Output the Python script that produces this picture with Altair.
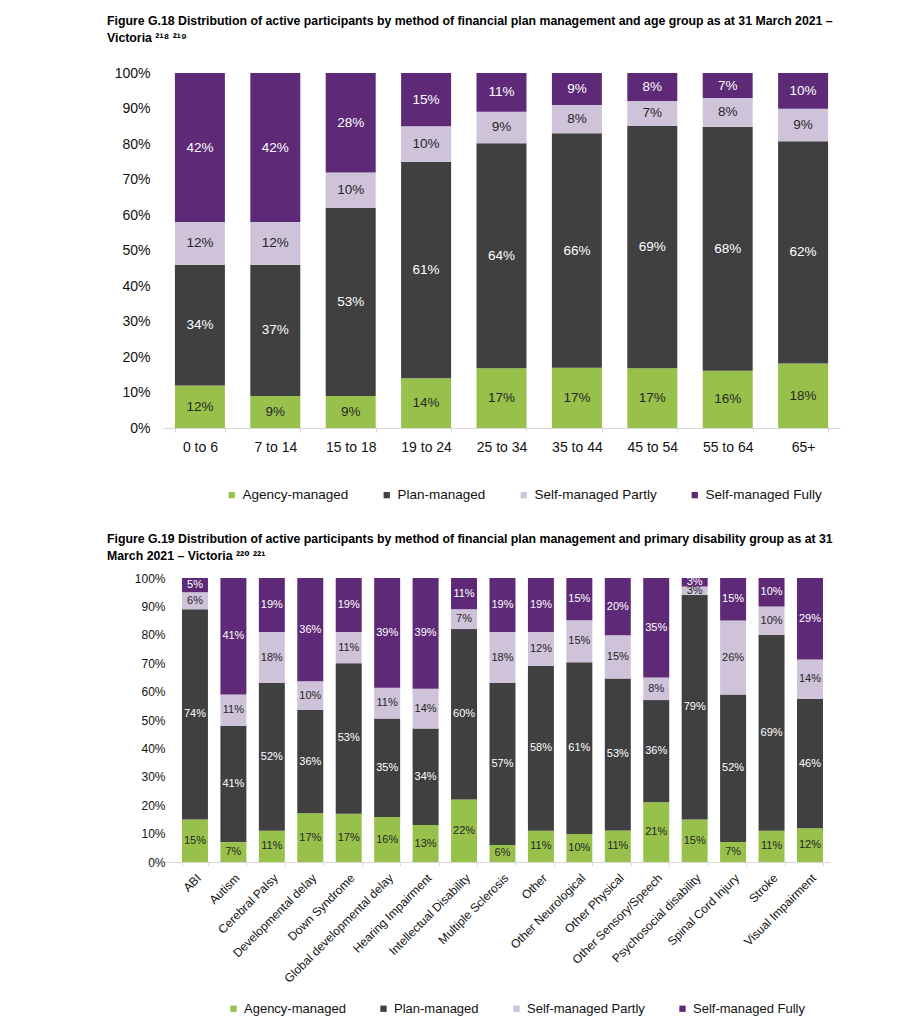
import altair as alt
import pandas as pd

series = ["Agency-managed", "Plan-managed", "Self-managed Partly", "Self-managed Fully"]
colors = ["#98C14C", "#404041", "#CFC3D9", "#5E2A78"]

age_groups = ["0 to 6", "7 to 14", "15 to 18", "19 to 24", "25 to 34",
              "35 to 44", "45 to 54", "55 to 64", "65+"]
age_agency = [12, 9, 9, 14, 17, 17, 17, 16, 18]
age_plan = [34, 37, 53, 61, 64, 66, 69, 68, 62]
age_partly = [12, 12, 10, 10, 9, 8, 7, 8, 9]
age_fully = [42, 42, 28, 15, 11, 9, 8, 7, 10]

dis_groups = ["ABI", "Autism", "Cerebral Palsy", "Developmental delay", "Down Syndrome",
              "Global developmental delay", "Hearing Impairment", "Intellectual Disability",
              "Multiple Sclerosis", "Other", "Other Neurological", "Other Physical",
              "Other Sensory/Speech", "Psychosocial disability", "Spinal Cord Injury",
              "Stroke", "Visual Impairment"]
dis_agency = [15, 7, 11, 17, 17, 16, 13, 22, 6, 11, 10, 11, 21, 15, 7, 11, 12]
dis_plan = [74, 41, 52, 36, 53, 35, 34, 60, 57, 58, 61, 53, 36, 79, 52, 69, 46]
dis_partly = [6, 11, 18, 10, 11, 11, 14, 7, 18, 12, 15, 15, 8, 3, 26, 10, 14]
dis_fully = [5, 41, 19, 36, 19, 39, 39, 11, 19, 19, 15, 20, 35, 3, 15, 10, 29]

title_top = ["Figure G.18 Distribution of active participants by method of financial plan management and age group as at 31 March 2021 \u2013",
             "Victoria \u00b2\u00b9\u2078 \u00b2\u00b9\u2079"]
title_bottom = ["Figure G.19 Distribution of active participants by method of financial plan management and primary disability group as at 31",
                "March 2021 \u2013 Victoria \u00b2\u00b2\u2070 \u00b2\u00b2\u00b9"]

FONT = "Liberation Sans"
TFONT = "Liberation Sans, DejaVu Sans"


def make_chart(cats, vals, width, height, title, pi, po, al, axis_fs, bar_fs,
               leg_fs, label_angle, ylab_pad, y_offset, leg_x, leg_y, title_offset):
    rows = []
    for i, c in enumerate(cats):
        for j, s in enumerate(series):
            rows.append({"cat": c, "series": s, "order": j, "value": vals[j][i]})
    df = pd.DataFrame(rows)
    base = alt.Chart(df).transform_stack(
        stack="value", groupby=["cat"], sort=[alt.SortField("order")],
        as_=["y0", "y1"], offset="normalize"
    ).transform_calculate(mid="(datum.y0 + datum.y1) / 2", lbl="datum.value + '%'")

    xaxis_kwargs = dict(title=None, labelFont=FONT, labelFontSize=axis_fs, labelColor="#111",
                        domainColor="#D9D9D9", tickColor="#D9D9D9", tickBand="extent",
                        tickSize=4, labelPadding=6, grid=False, labelOverlap=False)
    if label_angle:
        xaxis_kwargs.update(labelAngle=label_angle, labelAlign="right", labelBaseline="top")
    else:
        xaxis_kwargs.update(labelAngle=0, labelPadding=8)
    x_scale = alt.Scale(paddingInner=pi, paddingOuter=po, align=al)
    xaxis = alt.Axis(**xaxis_kwargs)
    yaxis = alt.Axis(title=None, format=".0%", values=[i / 10 for i in range(11)],
                     labelFont=FONT, labelFontSize=axis_fs, labelColor="#111",
                     domain=False, ticks=False, grid=False, labelPadding=ylab_pad,
                     offset=y_offset, labelOverlap=False, labelFlush=False)
    y_scale = alt.Scale(domain=[0, 1], nice=False)
    bars = base.mark_bar().encode(
        x=alt.X("cat:N", sort=cats, scale=x_scale, axis=xaxis),
        y=alt.Y("y0:Q", scale=y_scale, axis=yaxis),
        y2="y1:Q",
        color=alt.Color("series:N", scale=alt.Scale(domain=series, range=colors),
                        legend=alt.Legend(title=None, orient="none", direction="horizontal",
                                          legendX=leg_x, legendY=leg_y,
                                          symbolType="square", symbolSize=40,
                                          symbolStrokeWidth=0, labelFont=FONT,
                                          labelFontSize=leg_fs, labelColor="#111",
                                          labelOffset=4, columnPadding=31, padding=0)),
    )
    text = base.mark_text(font=FONT, fontSize=bar_fs, baseline="middle").encode(
        x=alt.X("cat:N", sort=cats, scale=x_scale, axis=xaxis),
        y=alt.Y("mid:Q", scale=y_scale, axis=yaxis),
        text="lbl:N",
        color=alt.condition("datum.order == 1 || datum.order == 3",
                            alt.value("#ffffff"), alt.value("#262626")),
    )
    return alt.layer(bars, text).properties(
        width=width, height=height,
        title=alt.TitleParams(text=title, anchor="start", frame="group", dx=-56,
                              font=TFONT, fontSize=12.3, fontWeight="bold",
                              lineHeight=17, color="#000", offset=title_offset),
    )


top = make_chart(age_groups, [age_agency, age_plan, age_partly, age_fully],
                 677, 355, title_top, 0.337, 0.158, 0.5, 14, 13.5, 13.5, 0, 13, 0,
                 62, 415, 22)
bottom = make_chart(dis_groups, [dis_agency, dis_plan, dis_partly, dis_fully],
                    667, 284, title_bottom, 0.324, 0.338, 0.73, 12, 11, 13, 315, 10, -12,
                    64, 424, 10)

chart = alt.vconcat(top, bottom, spacing=30).resolve_scale(
    color="independent").resolve_legend(color="independent").properties(
    padding={"left": 99, "top": 6, "right": 5, "bottom": 5}
).configure_view(stroke=None)

chart.save("out.html", embed_options={"renderer": "svg", "actions": False})
